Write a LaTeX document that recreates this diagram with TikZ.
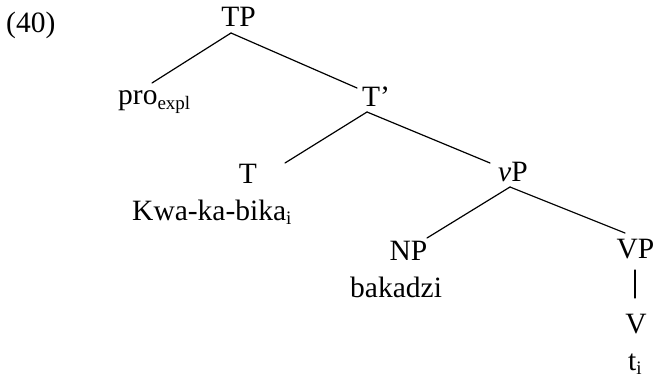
\documentclass[tikz,border=0pt]{standalone}
\usepackage{fontspec}
\setmainfont{Liberation Serif}
\newcommand\lowsub[1]{\raisebox{-4.5pt}{\fontsize{19}{19}\selectfont #1}}
\tikzset{
  lbl/.style={inner sep=0pt, font=\fontsize{29.5}{34}\selectfont, anchor=base},
  lblw/.style={lbl, anchor=base west},
  branch/.style={line width=1.2pt, line cap=round}
}
\begin{document}
\begin{tikzpicture}[x=1pt,y=-1pt]
\useasboundingbox (0,0) rectangle (655,382);
% labels
\node[lblw] (ex) at (6,33) {(40)};
\node[lbl] (TP) at (238.5,27) {TP};
\node[lblw] (pro) at (118,105) {pro\lowsub{expl}};
\node[lblw] (Tb) at (362,107) {T’};
\node[lbl] (T) at (248,183) {T};
\node[lblw] (Kwa) at (132,220) {Kwa-ka-bika\lowsub{i}};
\node[lblw] (vP) at (498,182) {\textit{v}P};
\node[lbl] (NP) at (408.5,260) {NP};
\node[lblw] (bak) at (350,297) {bakadzi};
\node[lbl] (VP) at (635.5,258) {VP};
\node[lbl] (V) at (636,333) {V};
\node[lblw] (t) at (628,370) {t\lowsub{i}};
% connector ends
\coordinate (TPb) at (231,33);
\coordinate (proT) at (152,83);
\coordinate (TbT) at (357,88);
\coordinate (Tbb) at (367,112);
\coordinate (TT) at (285,163);
\coordinate (vPT) at (490,163);
\coordinate (vPb) at (510,187);
\coordinate (NPT) at (427,238);
\coordinate (VPT) at (625,233);
\coordinate (VPb) at (635,270);
\coordinate (VT) at (635,298);
% branches
\draw[branch] (TPb) -- (proT);
\draw[branch] (TPb) -- (TbT);
\draw[branch] (Tbb) -- (TT);
\draw[branch] (Tbb) -- (vPT);
\draw[branch] (vPb) -- (NPT);
\draw[branch] (vPb) -- (VPT);
\draw[branch] (VPb) -- (VT);
\end{tikzpicture}
\end{document}
